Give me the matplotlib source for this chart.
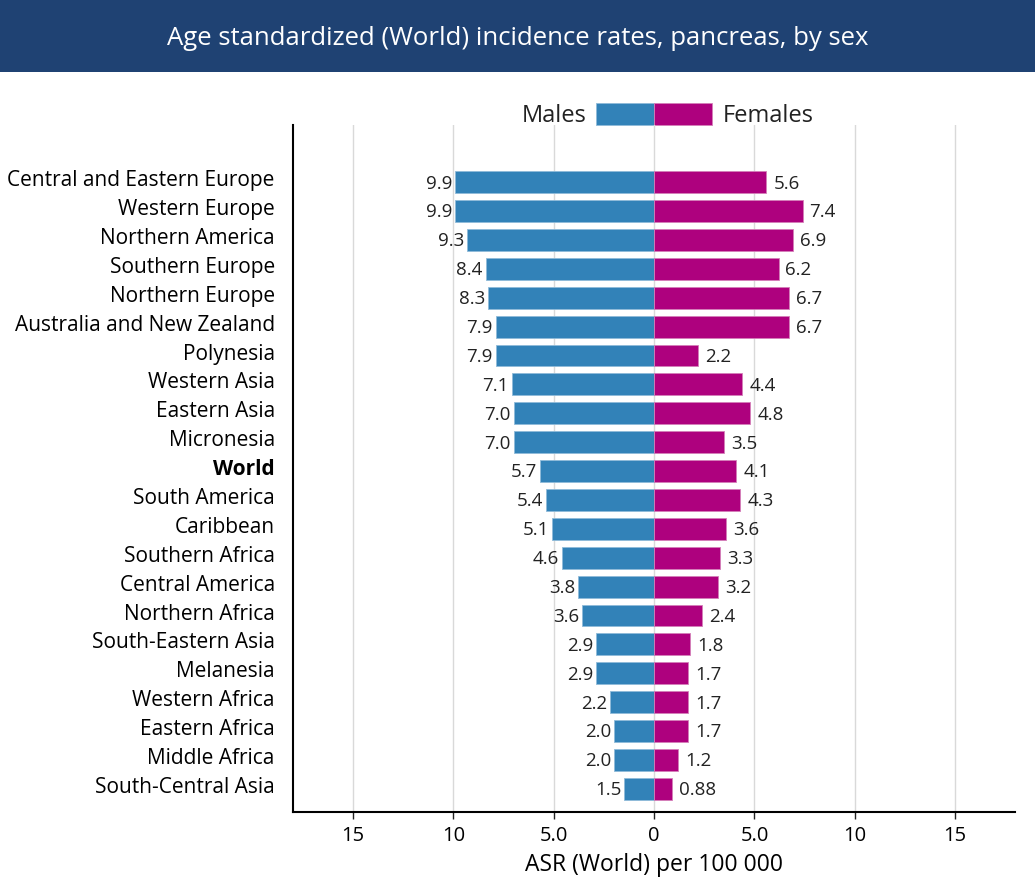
import numpy as np
import matplotlib
matplotlib.use("Agg")
import matplotlib.pyplot as plt
import matplotlib.transforms as mtransforms
from matplotlib.patches import Rectangle

plt.rcParams['font.family'] = ['Open Sans', 'DejaVu Sans']

# data
regions = ["Central and Eastern Europe", "Western Europe", "Northern America",
           "Southern Europe", "Northern Europe", "Australia and New Zealand",
           "Polynesia", "Western Asia", "Eastern Asia", "Micronesia", "World",
           "South America", "Caribbean", "Southern Africa", "Central America",
           "Northern Africa", "South-Eastern Asia", "Melanesia", "Western Africa",
           "Eastern Africa", "Middle Africa", "South-Central Asia"]
males = [9.9, 9.9, 9.3, 8.4, 8.3, 7.9, 7.9, 7.1, 7.0, 7.0, 5.7,
         5.4, 5.1, 4.6, 3.8, 3.6, 2.9, 2.9, 2.2, 2.0, 2.0, 1.5]
females = [5.6, 7.4, 6.9, 6.2, 6.7, 6.7, 2.2, 4.4, 4.8, 3.5, 4.1,
           4.3, 3.6, 3.3, 3.2, 2.4, 1.8, 1.7, 1.7, 1.7, 1.2, 0.88]
tick_vals = [-15, -10, -5, 0, 5, 10, 15]
tick_labels = ["15", "10", "5.0", "0", "5.0", "10", "15"]

blue = "#3282b8"
magenta = "#ae017e"

fig = plt.figure(figsize=(10.35, 8.82), dpi=100)

# title banner
fig.patches.append(Rectangle((0, 0.918), 1, 0.082, transform=fig.transFigure,
                             facecolor="#1f4273", edgecolor="none", zorder=0))
fig.text(0.5, 0.956, "Age standardized (World) incidence rates, pancreas, by sex",
         color="white", ha="center", va="center", fontsize=18.5)

ax = fig.add_axes([0.283, 0.0794, 0.698, 0.7786])
y = np.arange(len(regions))

ax.barh(y, -np.array(males), height=0.76, color=blue, edgecolor="#8fbbd9", linewidth=0.6, zorder=3)
ax.barh(y, females, height=0.76, color=magenta, edgecolor="#d47fb9", linewidth=0.6, zorder=3)

def fmt(v):
    return "0.88" if v < 1 else f"{v:.1f}"

for yi, m, f in zip(y, males, females):
    ax.annotate(fmt(m), (-m, yi), xytext=(-2, -1), textcoords="offset points",
                ha="right", va="center", fontsize=13.5, color="#222222")
    ax.annotate(fmt(f), (f, yi), xytext=(5, -1), textcoords="offset points",
                ha="left", va="center", fontsize=13.5, color="#222222")

ax.set_xlim(-18, 18)
ax.set_ylim(21.8, -1.97)
ax.set_yticks(y)
ax.set_yticklabels(regions, fontsize=15)
ax.get_yticklabels()[regions.index("World")].set_fontweight("bold")
ax.tick_params(axis="y", length=0, pad=13)
# region names sit a little above the bar centre in the original
shift = mtransforms.ScaledTranslation(0, 4 / 100, fig.dpi_scale_trans)
for lab in ax.get_yticklabels():
    lab.set_transform(lab.get_transform() + shift)
ax.set_xticks(tick_vals)
ax.set_xticklabels(tick_labels, fontsize=14.5)
ax.tick_params(axis="x", length=5, width=1, color="#222222", pad=5)
ax.set_xlabel("ASR (World) per 100 000", fontsize=16.5, labelpad=5)

ax.grid(axis="x", color="#d9d9d9", linewidth=1, zorder=0)
for s in ["top", "right"]:
    ax.spines[s].set_visible(False)
ax.spines["left"].set_linewidth(1.5)
ax.spines["bottom"].set_linewidth(1.5)

# legend above the plot
ax.add_patch(Rectangle((-2.9, -2.73), 2.9, 0.76, facecolor=blue, edgecolor="#8fbbd9",
                       linewidth=0.6, clip_on=False))
ax.add_patch(Rectangle((0, -2.73), 2.9, 0.76, facecolor=magenta, edgecolor="#d47fb9",
                       linewidth=0.6, clip_on=False))
ax.text(-3.35, -2.28, "Males", ha="right", va="center", fontsize=17, color="#222222")
ax.text(3.4, -2.28, "Females", ha="left", va="center", fontsize=17, color="#222222")

fig.savefig("out.png", dpi=100)
